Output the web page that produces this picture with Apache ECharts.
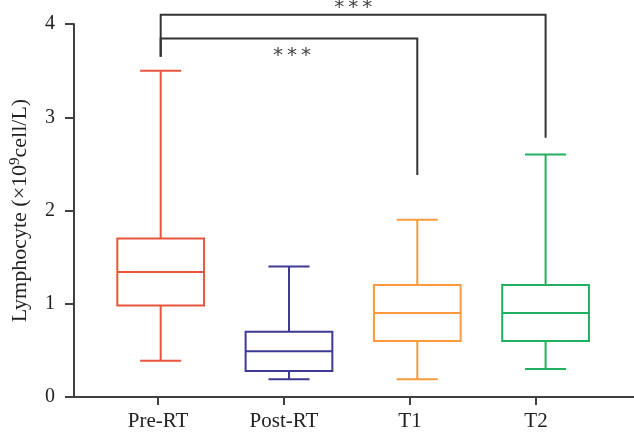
<!DOCTYPE html>
<html>
<head>
<meta charset="utf-8">
<script src="https://cdn.jsdelivr.net/npm/echarts@6/dist/echarts.min.js"></script>
<style>html,body{margin:0;padding:0;background:#fff}#c{width:634px;height:432px}</style>
</head>
<body>
<div id="c"></div>
<script>
// ---- data ----
const categories = ['Pre-RT', 'Post-RT', 'T1', 'T2'];
// [min, Q1, median, Q3, max]
const preRT  = [0.39, 0.98, 1.34, 1.70, 3.50];
const postRT = [0.19, 0.28, 0.49, 0.70, 1.40];
const t1     = [0.19, 0.60, 0.90, 1.20, 1.90];
const t2     = [0.30, 0.60, 0.90, 1.20, 2.60];
const boxValues = [preRT, postRT, t1, t2];
const yTicks = [0, 1, 2, 3, 4];
// significance brackets: [fromIndex, toIndex, level, leftLegEnd, rightLegEnd]
const brackets = [
  [0, 3, 4.10, 3.65, 2.78],
  [0, 2, 3.845, 3.65, 2.38]
];
const bracketLabels = ['*\u2009*\u2009*', '*\u2009*\u2009*'];

const colors = ['#E8553C', '#3E3A92', '#F79B3E', '#20B05E'];
const FONT = 'Liberation Serif';
const axisColor = '#404040';

const chart = echarts.init(document.getElementById('c'), null, {renderer: 'canvas'});

const boxData = boxValues.map((v, i) => [i].concat(v));

function renderBox(params, api) {
  const x = api.value(0);
  const idx = params.dataIndex;
  const unit = api.size([1, 0])[0];
  const hb = unit * 0.338, hc = unit * 0.16;
  const p = [1,2,3,4,5].map(d => api.coord([x, api.value(d)]));
  const cx = p[0][0];
  const st = {stroke: colors[idx], lineWidth: 2, fill: null};
  const L = (x1,y1,x2,y2) => ({type:'line', shape:{x1,y1,x2,y2}, style: st});
  return {type:'group', children:[
    {type:'rect', shape:{x: cx-hb, y: p[3][1], width: 2*hb, height: p[1][1]-p[3][1]}, style: st},
    L(cx-hb, p[2][1], cx+hb, p[2][1]),
    L(cx, p[3][1], cx, p[4][1]),
    L(cx, p[1][1], cx, p[0][1]),
    L(cx-hc, p[4][1], cx+hc, p[4][1]),
    L(cx-hc, p[0][1], cx+hc, p[0][1])
  ]};
}

function renderBracket(params, api) {
  const a = api.value(0), b = api.value(1), lv = api.value(2);
  const pl = api.coord([a, api.value(3)]);
  const pr = api.coord([b, api.value(4)]);
  const top = api.coord([a, lv])[1];
  const idx = params.dataIndex;
  const mid = (pl[0] + pr[0]) / 2 + (idx === 0 ? 0 : 3);
  const ty = idx === 0 ? top - 7 : top + 17;
  return {type:'group', children:[
    {type:'polyline', shape:{points:[[pl[0], pl[1]], [pl[0], top], [pr[0], top], [pr[0], pr[1]]]},
      style:{stroke:'#333', lineWidth:2, fill:null}},
    {type:'text', x: mid, y: ty, style:{text: bracketLabels[idx], font: '20px "DejaVu Sans"',
      fill:'#444', align:'center', verticalAlign:'middle'}}
  ]};
}

chart.setOption({
  animation: false,
  backgroundColor: '#fff',
  grid: [
    {left: 95, right: 35, top: 24, bottom: 35},
    {left: 72, right: 0, top: 24, bottom: 35}
  ],
  xAxis: [
    {type: 'category', gridIndex: 0, data: categories, boundaryGap: true,
      axisLine: {show: false},
      axisTick: {show: true, alignWithLabel: true, length: 8, lineStyle: {color: axisColor, width: 2}},
      axisLabel: {color: '#222', fontFamily: FONT, fontSize: 21, margin: 14}},
    {type: 'value', gridIndex: 1, min: -0.6756, max: 3.689,
      axisLine: {show: true, onZero: false, lineStyle: {color: axisColor, width: 2}},
      axisTick: {show: false}, axisLabel: {show: false}, splitLine: {show: false}}
  ],
  yAxis: [
    {type: 'value', gridIndex: 0, min: 0, max: 4, show: false},
    {type: 'value', gridIndex: 1, min: yTicks[0], max: yTicks[yTicks.length-1], interval: 1,
      axisLine: {show: true, onZero: false, lineStyle: {color: axisColor, width: 2}},
      axisTick: {show: true, length: 9, lineStyle: {color: axisColor, width: 2}},
      axisLabel: {color: '#222', fontFamily: FONT, fontSize: 20, margin: 19},
      splitLine: {show: false},
      name: '{a|Lymphocyte (×10}{s|9}{a|cell/L)}',
      nameLocation: 'middle', nameGap: 41, nameRotate: 90,
      nameTextStyle: {
        rich: {
          a: {fontFamily: FONT, fontSize: 22, color: '#222', lineHeight: 25},
          s: {fontFamily: FONT, fontSize: 15, color: '#222', verticalAlign: 'top', lineHeight: 25}
        }
      }}
  ],
  series: [
    {type: 'custom', xAxisIndex: 1, yAxisIndex: 1, data: boxData, renderItem: renderBox,
      encode: {x: 0, y: [1,2,3,4,5]}, clip: false},
    {type: 'custom', xAxisIndex: 1, yAxisIndex: 1, data: brackets, renderItem: renderBracket,
      encode: {x: [0,1], y: [2,3,4]}, clip: false}
  ]
});
</script>
</body>
</html>
